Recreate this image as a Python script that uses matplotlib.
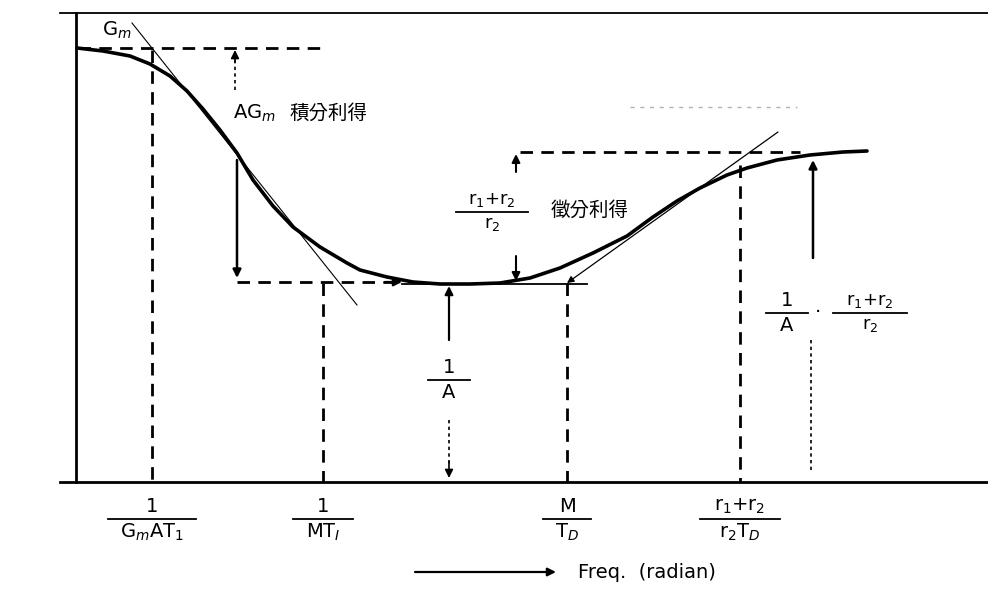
import matplotlib.pyplot as plt

plt.rcParams['font.family'] = ['DejaVu Sans', 'Noto Sans CJK TC']
plt.rcParams['mathtext.fontset'] = 'dejavusans'

# gain curve (pixel coordinates, y downwards)
curve_x = [77, 103, 130, 150, 170, 187, 203, 220, 237, 253, 273, 293, 320,
           347, 360, 387, 413, 440, 470, 500, 530, 560, 593, 627, 653, 677,
           700, 727, 747, 777, 810, 843, 867]
curve_y = [48, 51, 56, 64, 76, 91, 109, 130, 153, 180, 206, 227, 247,
           263, 270, 277, 282, 284, 284, 283, 278, 268, 253, 236, 217, 201,
           188, 175, 168, 160, 155, 152, 151]

# corner frequencies on the axis and where their dashed lines start
freq_x = [152, 323, 567, 740]
freq_top = [50, 283, 283, 165]
freq_num = ['1', '1', 'M', r'r$_1$+r$_2$']
freq_den = [r'G$_m$AT$_1$', r'MT$_I$', r'T$_D$', r'r$_2$T$_D$']
freq_bar = [88, 60, 48, 80]

BASE = 482
DASH = (4.5, 3)


def frac(ax, x, y, num, den, width, size=14):
    ax.text(x, y - 3, num, ha='center', va='bottom', fontsize=size)
    ax.plot([x - width / 2, x + width / 2], [y, y], color='black', lw=1.3)
    ax.text(x, y + 3, den, ha='center', va='top', fontsize=size)


def arrow(ax, x0, y0, x1, y1, lw=1.6):
    ax.annotate('', xy=(x1, y1), xytext=(x0, y0),
                arrowprops=dict(arrowstyle='-|>', color='black', lw=lw,
                                mutation_scale=12, shrinkA=0, shrinkB=0))


fig = plt.figure(figsize=(9.88, 5.89), dpi=100)
ax = fig.add_axes([0, 0, 1, 1])
ax.set_xlim(0, 988)
ax.set_ylim(589, 0)
ax.axis('off')

# frame: top line, left axis, baseline
ax.plot([60, 988], [13, 13], color='black', lw=1.3)
ax.plot([76, 76], [13, BASE], color='black', lw=2)
ax.plot([60, 988], [BASE, BASE], color='black', lw=2)

# the curve
ax.plot(curve_x, curve_y, color='black', lw=2.6, solid_capstyle='round',
        solid_joinstyle='round')

# tangent lines
ax.plot([132, 357], [23, 305], color='black', lw=0.8)
ax.annotate('', xy=(567, 283), xytext=(778, 132),
            arrowprops=dict(arrowstyle='-|>', color='black', lw=0.9,
                            mutation_scale=10, shrinkA=0, shrinkB=0))

# dashed levels
ax.plot([78, 320], [48, 48], color='black', lw=2, dashes=DASH)
ax.plot([237, 395], [282, 282], color='black', lw=2, dashes=DASH)
arrow(ax, 385, 282, 402, 282)
ax.plot([402, 587], [284, 284], color='black', lw=1.3)
ax.plot([520, 800], [152, 152], color='black', lw=2, dashes=DASH)
ax.plot([630, 797], [107, 107], color='gray', lw=1, dashes=(3, 4), alpha=0.6)

# dashed verticals down to the frequency axis
for x, top in zip(freq_x, freq_top):
    ax.plot([x, x], [top, BASE], color='black', lw=2, dashes=DASH)

# AGm arrows
ax.plot([235, 235], [90, 60], color='black', lw=1.2, dashes=(2, 2))
arrow(ax, 235, 62, 235, 50, lw=1.2)
arrow(ax, 237, 160, 237, 278, lw=1.8)

# 1/A arrows
arrow(ax, 449, 340, 449, 286, lw=1.6)
ax.plot([449, 449], [420, 465], color='black', lw=1.2, dashes=(2, 2))
arrow(ax, 449, 462, 449, 478, lw=1.2)

# differential gain arrows
arrow(ax, 516, 172, 516, 154, lw=1.5)
arrow(ax, 516, 256, 516, 281, lw=1.5)

# right level arrows
arrow(ax, 813, 258, 813, 160, lw=1.8)
ax.plot([811, 811], [340, 470], color='black', lw=1.2, dashes=(2, 2))

# labels on the curve
ax.text(102, 30, r'G$_m$', ha='left', va='center', fontsize=14)
ax.text(233, 113, r'AG$_m$', ha='left', va='center', fontsize=14)
ax.text(290, 113, '積分利得', ha='left', va='center', fontsize=14,
        family=['Noto Sans CJK TC', 'DejaVu Sans'])
frac(ax, 492, 212, r'r$_1$+r$_2$', r'r$_2$', 72, size=13)
ax.text(551, 210, '徵分利得', ha='left', va='center', fontsize=14,
        family=['Noto Sans CJK TC', 'DejaVu Sans'])
frac(ax, 449, 380, '1', 'A', 42)
frac(ax, 787, 313, '1', 'A', 42)
ax.text(818, 313, '·', ha='center', va='center', fontsize=14)
frac(ax, 870, 313, r'r$_1$+r$_2$', r'r$_2$', 74, size=13)

# frequency axis labels
for x, n, d, w in zip(freq_x, freq_num, freq_den, freq_bar):
    frac(ax, x, 519, n, d, w)

arrow(ax, 415, 572, 556, 572, lw=1.6)
ax.text(578, 572, 'Freq.  (radian)', ha='left', va='center', fontsize=14)

fig.savefig('out.png', dpi=100)
